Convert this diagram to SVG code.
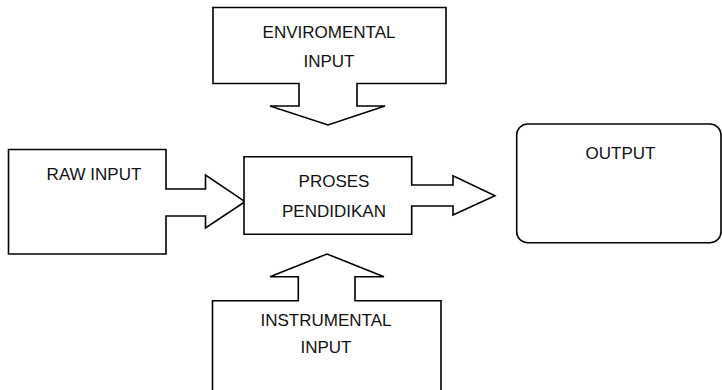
<svg xmlns="http://www.w3.org/2000/svg" width="722" height="390" viewBox="0 0 722 390">
<style>
.s{fill:#fff;stroke:#000;stroke-width:1.6;stroke-linejoin:miter}
.t{font-family:"Liberation Sans",Arial,sans-serif;font-size:17px;fill:#111;text-anchor:middle}
</style>
<rect width="722" height="390" fill="#fff"/>
<g id="enviromental-input">
<polygon class="s" points="213,7.5 446,7.5 446,83.5 357,83.5 357,106 385,106 328,125 270,106 299,106 299,83.5 213,83.5"/>
<text class="t" x="329" y="38">ENVIROMENTAL</text>
<text class="t" x="329" y="67">INPUT</text>
</g>
<g id="raw-input">
<polygon class="s" points="8.5,149.5 166,149.5 166,189 205.5,189 205.5,175 245,201.7 205.5,228 205.5,216 166,216 166,254 8.5,254"/>
<text class="t" x="94" y="180">RAW INPUT</text>
</g>
<g id="proses-pendidikan">
<polygon class="s" points="244,156.7 411.7,156.7 411.7,185 453,185 453,175.7 495,195.7 453,215 453,206 411.7,206 411.7,234.3 244,234.3"/>
<text class="t" x="334" y="187">PROSES</text>
<text class="t" x="334" y="217">PENDIDIKAN</text>
</g>
<g id="output">
<rect class="s" x="516.7" y="124" width="204.3" height="118.7" rx="11" ry="11"/>
<text class="t" x="620.5" y="159">OUTPUT</text>
</g>
<g id="instrumental-input">
<polyline class="s" points="212.5,392 212.5,300.7 298.3,300.7 298.3,276.7 270,276.7 327,254 384,276.7 355,276.7 355,300.7 441,300.7 441,392"/>
<text class="t" x="326" y="326">INSTRUMENTAL</text>
<text class="t" x="326" y="353">INPUT</text>
</g>
<g id="connectors"></g>
</svg>
